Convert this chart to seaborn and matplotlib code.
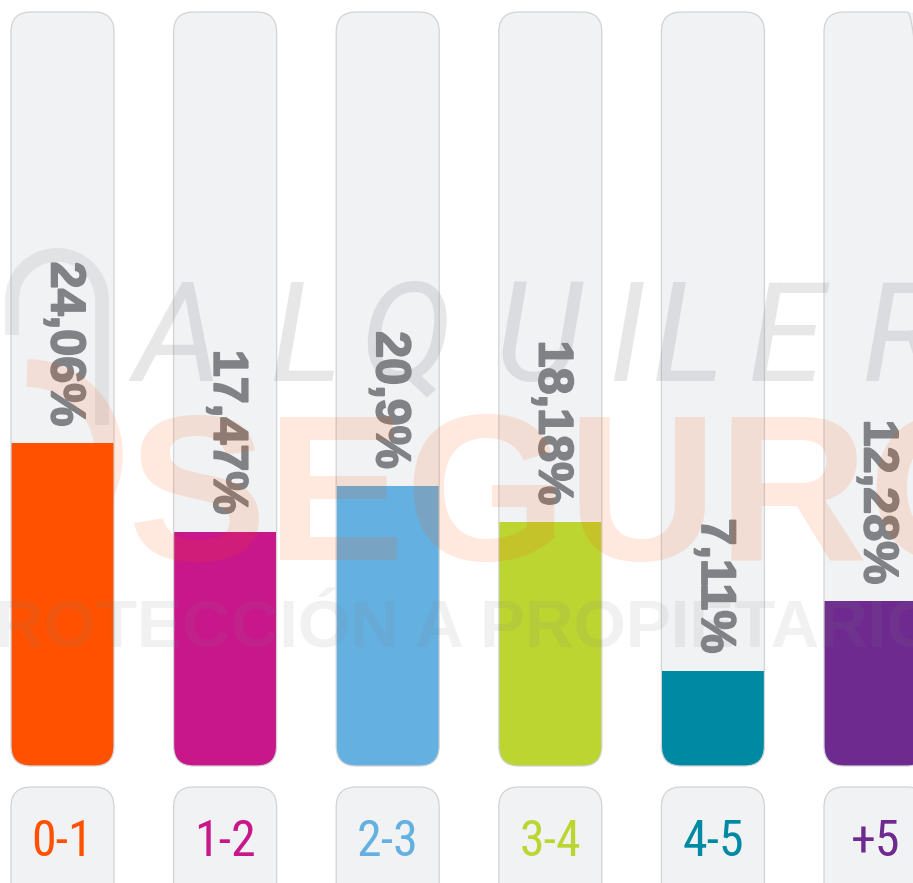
import numpy as np
import pandas as pd
import matplotlib
matplotlib.use("Agg")
import matplotlib.pyplot as plt
import seaborn as sns
from matplotlib import font_manager
from matplotlib import patheffects
from matplotlib.patches import FancyBboxPatch
from matplotlib.transforms import Affine2D

# data
categories = ["0-1", "1-2", "2-3", "3-4", "4-5", "+5"]
values = [24.06, 17.47, 20.9, 18.18, 7.11, 12.28]
colors = ["#ff5100", "#c8168b", "#64b0e0", "#bcd531", "#0089a3", "#6f2a8f"]
value_labels = [str(v).replace(".", ",") + "%" for v in values]

# layout (pixels of the 913x883 canvas)
W, H = 913, 883
X0, DX = 62.5, 162.6      # centre of first tube, distance between tubes
Y0, SY = 766, 13.41       # baseline, pixels per percent
TUBE_TOP = (Y0 - 12) / SY
BAR_W = 103 / DX
RADIUS = 20 / DX
ASPECT = DX / SY
BOX_TOP = -(787 - Y0) / SY
GRAY = "#808285"

sns.set_theme(style="white")
names = {f.name for f in font_manager.fontManager.ttflist}
narrow = next((n for n in ["Liberation Sans Narrow", "Roboto Condensed"] if n in names), "Liberation Sans")
plt.rcParams["font.family"] = ["Liberation Sans", "DejaVu Sans"]

fig = plt.figure(figsize=(W / 100, H / 100), dpi=100)
ax = fig.add_axes([0, 0, 1, 1])

df = pd.DataFrame({"rango": categories, "pct": values})
sns.barplot(data=df, x="rango", y="pct", hue="rango", palette=colors,
            saturation=1, width=BAR_W, errorbar=None, legend=False,
            linewidth=0, ax=ax, zorder=2)
bars = list(ax.patches)

thick = [patheffects.withStroke(linewidth=1.3, foreground=GRAY)]
rounded = f"round,pad=0,rounding_size={RADIUS}"
for i, cat in enumerate(categories):
    # background tube, bars get clipped to it (rounded bottom)
    tube = FancyBboxPatch((i - BAR_W / 2, 0), BAR_W, TUBE_TOP, boxstyle=rounded,
                          mutation_aspect=ASPECT, fc="#f1f2f4", ec="none", zorder=1)
    ax.add_patch(tube)
    bars[i].set_clip_path(tube)
    ax.add_patch(FancyBboxPatch((i - BAR_W / 2, 0), BAR_W, TUBE_TOP, boxstyle=rounded,
                                mutation_aspect=ASPECT, fc="none", ec="#d1d3d4",
                                lw=0.9, zorder=2.5))
    # category box
    ax.add_patch(FancyBboxPatch((i - BAR_W / 2, -12), BAR_W, 12 + BOX_TOP, boxstyle=rounded,
                                mutation_aspect=ASPECT, fc="#f1f2f4", ec="#d1d3d4",
                                lw=0.9, zorder=1))
    ax.text(i, -(856 - Y0) / SY, cat, ha="center", va="baseline", fontsize=36,
            color=colors[i], family=[narrow, "DejaVu Sans"])
    ax.text(i + 0.01, values[i] + 17 / SY, value_labels[i], rotation=-90,
            ha="center", va="bottom", fontsize=35, fontweight="bold",
            color=GRAY, zorder=3, path_effects=thick)

# watermark (pixel coords from the top-left corner)
px = Affine2D().scale(1, -1).translate(0, H)
for ch, x in zip("ALQUILER", [133, 270, 360, 494, 608, 652, 748, 862]):
    ax.text(x, 381, ch, transform=px, fontsize=100, family=["Roboto", "DejaVu Sans"],
            style="italic", color=GRAY, alpha=0.19, zorder=4)
ax.text(128, 560, "SEGURO", transform=px, fontsize=150, fontweight="bold",
        color="#ff5100", alpha=0.13, zorder=4)
ax.text(-50, 648, "PROTECCIÓN A PROPIETARIOS", transform=px, fontsize=48.5,
        fontweight="bold", color=GRAY, alpha=0.11, zorder=4)

# bits of the logo on the left
t = np.linspace(np.pi, 0, 60)
ax.plot(np.r_[12, 57 + 45 * np.cos(t), 102], np.r_[335, 300 - 45 * np.sin(t), 425],
        transform=px, color=GRAY, alpha=0.14, lw=10, solid_capstyle="butt", zorder=4)
t = np.linspace(-np.pi / 2, np.pi / 2, 60)
ax.plot(27 + 82 * np.cos(t), 455 + 82 * np.sin(t), transform=px, color="#ff5100",
        alpha=0.12, lw=20, solid_capstyle="butt", zorder=4)

ax.set_xlim(-X0 / DX, (W - X0) / DX)
ax.set_ylim(-(H - Y0) / SY, Y0 / SY)
ax.set_axis_off()

fig.savefig("out.png", dpi=100)
